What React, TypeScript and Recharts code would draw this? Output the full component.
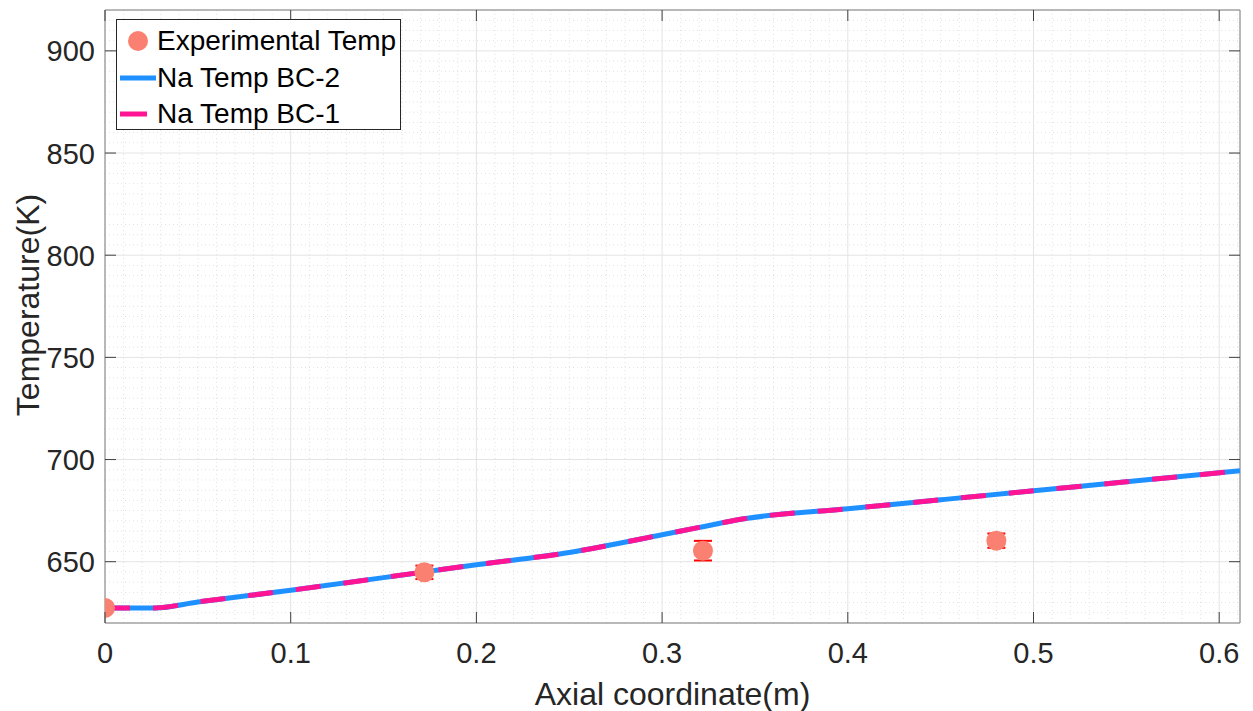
import { ComposedChart, Line, Scatter, XAxis, YAxis, CartesianGrid, ErrorBar, ReferenceLine } from "recharts";

// simulated sodium temperature along the axis (BC-1 and BC-2 practically overlap)
const axialPos = [0, 0.027, 0.05, 0.1, 0.172, 0.2, 0.25, 0.3, 0.32, 0.345, 0.4, 0.45, 0.5, 0.55, 0.6112];
const bc2Temp = [627.4, 627.4, 630.3, 636.0, 645.0, 648.5, 654.5, 663.2, 666.8, 671.1, 675.9, 680.3, 684.7, 689.1, 694.5];
const bc1Temp = [627.4, 627.4, 630.3, 636.0, 645.0, 648.5, 654.5, 663.2, 666.8, 671.1, 675.9, 680.3, 684.7, 689.1, 694.5];

// thermocouple measurements
const expPos = [0, 0.172, 0.322, 0.48];
const expTemp = [627.4, 644.8, 655.4, 660.3];
const expErr = [0, 3.3, 4.8, 3.5];

const xTicks = [0, 0.1, 0.2, 0.3, 0.4, 0.5, 0.6];
const yTicks = [650, 700, 750, 800, 850, 900];
const xMinor = [0.01, 0.02, 0.03, 0.04, 0.05, 0.06, 0.07, 0.08, 0.09, 0.11, 0.12, 0.13, 0.14, 0.15, 0.16, 0.17, 0.18, 0.19, 0.21, 0.22, 0.23, 0.24, 0.25, 0.26, 0.27, 0.28, 0.29, 0.31, 0.32, 0.33, 0.34, 0.35, 0.36, 0.37, 0.38, 0.39, 0.41, 0.42, 0.43, 0.44, 0.45, 0.46, 0.47, 0.48, 0.49, 0.51, 0.52, 0.53, 0.54, 0.55, 0.56, 0.57, 0.58, 0.59, 0.61];
const yMinor = [625, 630, 635, 640, 645, 655, 660, 665, 670, 675, 680, 685, 690, 695, 705, 710, 715, 720, 725, 730, 735, 740, 745, 755, 760, 765, 770, 775, 780, 785, 790, 795, 805, 810, 815, 820, 825, 830, 835, 840, 845, 855, 860, 865, 870, 875, 880, 885, 890, 895, 905, 910, 915];

const X_MAX = 0.6112;
const Y_MIN = 620;
const Y_MAX = 920;

const lineData = axialPos.map((x, i) => ({ x, bc2: bc2Temp[i], bc1: bc1Temp[i] }));
const expData = expPos.map((x, i) => ({ x, y: expTemp[i], err: expErr[i] }));

const FONT = '"Liberation Sans", Arial, Helvetica, sans-serif';
const PLOT_TOP = 2;
const PLOT_RIGHT = 1232;
const TICK_LEN = 11;

function XTick(props: any) {
  const { x, y, payload } = props;
  return (
    <g>
      <line x1={x} x2={x} y1={y} y2={y - TICK_LEN} stroke="#404040" />
      <line x1={x} x2={x} y1={PLOT_TOP} y2={PLOT_TOP + TICK_LEN} stroke="#404040" />
      <text x={x} y={y + 40} textAnchor="middle" fontSize={29} fill="#262626" fontFamily={FONT}>
        {payload.value}
      </text>
    </g>
  );
}

function YTick(props: any) {
  const { x, y, payload } = props;
  return (
    <g>
      <line x1={x} x2={x + TICK_LEN} y1={y} y2={y} stroke="#404040" />
      <line x1={PLOT_RIGHT - TICK_LEN} x2={PLOT_RIGHT} y1={y} y2={y} stroke="#404040" />
      <text x={x - 10} y={y + 10.5} textAnchor="end" fontSize={29} fill="#262626" fontFamily={FONT}>
        {payload.value}
      </text>
    </g>
  );
}

function XLabel(props: any) {
  const vb = props.viewBox || { x: 97, width: 1135, y: 615 };
  return (
    <text x={vb.x + vb.width / 2} y={697} textAnchor="middle" fontSize={32} fill="#262626" fontFamily={FONT}>
      Axial coordinate(m)
    </text>
  );
}

function YLabel() {
  return (
    <text
      x={20}
      y={297}
      transform="rotate(-90 20 297)"
      textAnchor="middle"
      dominantBaseline="central"
      fontSize={32}
      fill="#262626"
      fontFamily={FONT}
    >
      Temperature(K)
    </text>
  );
}

function Dot(props: any) {
  const { cx, cy } = props;
  return <circle cx={cx} cy={cy} r={10} fill="#FA8072" />;
}

function LegendBox() {
  const rows = [
    { label: "Experimental Temp", kind: "dot", top: 21 },
    { label: "Na Temp BC-2", kind: "blue", top: 58 },
    { label: "Na Temp BC-1", kind: "pink", top: 94 },
  ];
  return (
    <div
      style={{
        position: "absolute",
        left: 108,
        top: 11,
        width: 285,
        height: 111,
        boxSizing: "border-box",
        border: "1px solid #262626",
        background: "#fff",
        fontFamily: FONT,
      }}
    >
      {rows.map((r) => (
        <div
          key={r.label}
          style={{ position: "absolute", left: 2, top: r.top - 18, height: 36, display: "flex", alignItems: "center" }}
        >
          <svg width={38} height={36}>
            {r.kind === "dot" && <circle cx={19} cy={18} r={10} fill="#FA8072" />}
            {r.kind === "blue" && <line x1={1} x2={37} y1={18} y2={18} stroke="#1E90FF" strokeWidth={5} />}
            {r.kind === "pink" && <line x1={1} x2={28} y1={18} y2={18} stroke="#FF1493" strokeWidth={5} />}
          </svg>
          <span style={{ fontSize: 28, color: "#000", marginLeft: 0, whiteSpace: "nowrap" }}>{r.label}</span>
        </div>
      ))}
    </div>
  );
}

export default function App() {
  return (
    <div style={{ position: "relative", width: 1245, height: 703 }}>
      <ComposedChart width={1245} height={703} margin={{ top: PLOT_TOP, right: 13, bottom: 0, left: 0 }}>
        <CartesianGrid stroke="#e4e4e4" strokeWidth={1} />
        {xMinor.map((v) => (
          <ReferenceLine key={"mx" + v} x={v} stroke="#e2e2e2" strokeDasharray="1 3" />
        ))}
        {yMinor.map((v) => (
          <ReferenceLine key={"my" + v} y={v} stroke="#e2e2e2" strokeDasharray="1 3" />
        ))}
        <XAxis
          type="number"
          dataKey="x"
          domain={[0, X_MAX]}
          ticks={xTicks}
          allowDataOverflow
          height={88}
          tickSize={0}
          tickMargin={0}
          tickLine={false}
          tick={<XTick />}
          axisLine={{ stroke: "#808080" }}
          label={<XLabel />}
        />
        <YAxis
          type="number"
          domain={[Y_MIN, Y_MAX]}
          ticks={yTicks}
          allowDataOverflow
          width={97}
          tickSize={0}
          tickMargin={0}
          tickLine={false}
          tick={<YTick />}
          axisLine={{ stroke: "#808080" }}
          label={<YLabel />}
        />
        <ReferenceLine y={Y_MAX} stroke="#808080" />
        <ReferenceLine x={X_MAX} stroke="#808080" />
        <Scatter data={expData} dataKey="y" fill="#FA8072" shape={<Dot />} isAnimationActive={false}>
          <ErrorBar dataKey="err" direction="y" width={9} stroke="#FF0000" strokeWidth={2} />
        </Scatter>
        <Line
          data={lineData}
          dataKey="bc2"
          type="monotone"
          stroke="#1E90FF"
          strokeWidth={5}
          dot={false}
          activeDot={false}
          isAnimationActive={false}
        />
        <Line
          data={lineData}
          dataKey="bc1"
          type="monotone"
          stroke="#FF1493"
          strokeWidth={5}
          strokeDasharray="25 23"
          dot={false}
          activeDot={false}
          isAnimationActive={false}
        />
      </ComposedChart>
      <LegendBox />
    </div>
  );
}
